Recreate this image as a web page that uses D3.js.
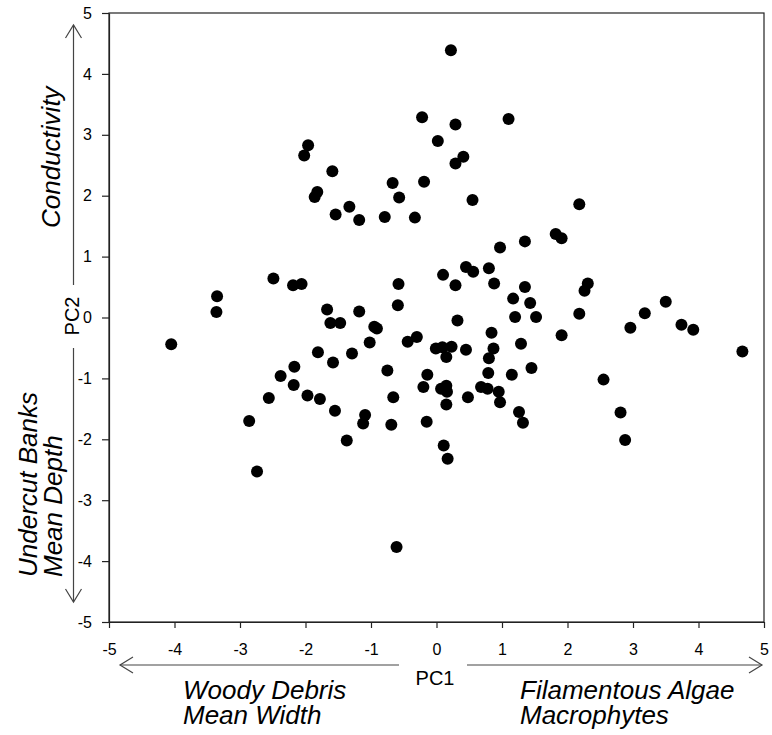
<!DOCTYPE html>
<html>
<head>
<meta charset="utf-8">
<script src="https://cdn.jsdelivr.net/npm/d3@7"></script>
<style>
  html, body { margin: 0; padding: 0; background: #fff; }
  svg { display: block; font-family: Arial, "Liberation Sans", sans-serif; }
</style>
</head>
<body>
<svg id="chart" width="772" height="735"></svg>
<script>
// ---- Data (PC1, PC2 scores) ----
const pc1 = [
  0.22, 1.10, -0.22, 0.29, 0.02, 0.41, 0.29, 0.55, 2.18, 1.82, 1.91, 1.35, 0.97, 0.45, 0.56, 0.80,
  0.10, 0.29, 0.88, 1.35, 1.17, 1.43, 1.20, 1.52, 2.31, 2.26, 2.18, 3.50, 3.18, 0.32,
  -1.96, -2.02, -1.59, -1.82, -1.86, -0.67, -0.19, -0.57, -1.33, -1.54, -1.18, -0.79, -0.33,
  -2.49, -2.19, -2.06, -3.35, -3.36, -0.58, -0.59, -1.67, -1.18, -1.62, -1.47, -0.95, -0.91,
  -4.05, -1.02, -0.44, -0.30, -0.01, -1.81, -1.29, -1.58, -2.17, -2.38, -2.18, -1.97, -1.78,
  -2.56, -1.55, -0.75, -0.14, -0.20, -0.66, -1.09, -1.12, -0.69, -0.15, -1.37, -2.86, -2.74, -0.61,
  2.96, 3.74, 3.92, 4.67, 1.91, 0.84, 1.29, 0.09, 0.23, 0.45, 0.15, 0.87, 0.80, 0.79, 1.15, 1.45,
  2.55, 0.15, 0.07, 0.16, 0.68, 0.78, 0.95, 0.97, 0.48, 0.15, 1.26, 1.32, 2.81, 2.88, 0.11, 0.17
];
const pc2 = [
  4.39, 3.26, 3.29, 3.17, 2.90, 2.64, 2.53, 1.93, 1.86, 1.37, 1.30, 1.25, 1.15, 0.83, 0.75, 0.81,
  0.70, 0.53, 0.56, 0.50, 0.31, 0.24, 0.01, 0.01, 0.56, 0.44, 0.06, 0.26, 0.07, -0.05,
  2.83, 2.66, 2.40, 2.06, 1.98, 2.21, 2.23, 1.97, 1.82, 1.69, 1.60, 1.65, 1.64,
  0.64, 0.53, 0.55, 0.35, 0.09, 0.55, 0.20, 0.13, 0.10, -0.09, -0.09, -0.15, -0.18,
  -0.44, -0.41, -0.40, -0.32, -0.51, -0.57, -0.59, -0.74, -0.81, -0.96, -1.11, -1.28, -1.34,
  -1.32, -1.53, -0.87, -0.94, -1.14, -1.31, -1.60, -1.74, -1.76, -1.71, -2.02, -1.70, -2.53, -3.77,
  -0.17, -0.12, -0.20, -0.56, -0.29, -0.25, -0.43, -0.49, -0.48, -0.53, -0.65, -0.51, -0.67, -0.91, -0.94, -0.83,
  -1.02, -1.12, -1.17, -1.22, -1.14, -1.17, -1.22, -1.39, -1.31, -1.43, -1.55, -1.73, -1.56, -2.01, -2.10, -2.32
];
const xTicks = [-5, -4, -3, -2, -1, 0, 1, 2, 3, 4, 5];
const yTicks = [-5, -4, -3, -2, -1, 0, 1, 2, 3, 4, 5];
const xAxisTitle = "PC1";
const yAxisTitle = "PC2";
const leftLabels = ["Woody Debris", "Mean Width"];
const rightLabels = ["Filamentous Algae", "Macrophytes"];
const topLabels = ["Conductivity"];
const bottomLabels = ["Undercut Banks", "Mean Depth"];

const points = pc1.map((v, i) => ({ x: v, y: pc2[i] }));

// ---- Layout ----
const svg = d3.select("#chart");
const L = 109, R = 764, T = 13, B = 622;
const x = d3.scaleLinear().domain([-5, 5]).range([L, R]);
const y = d3.scaleLinear().domain([-5, 5]).range([B, T]);

// frame
svg.append("rect")
  .attr("x", L).attr("y", T).attr("width", R - L).attr("height", B - T)
  .attr("fill", "none").attr("stroke", "#222").attr("stroke-width", 1.2);

// axes
const gx = svg.append("g").attr("transform", `translate(0,${B})`)
  .call(d3.axisBottom(x).tickValues(xTicks).tickSize(6).tickSizeOuter(0).tickPadding(16).tickFormat(d3.format("d")));
const gy = svg.append("g").attr("transform", `translate(${L},0)`)
  .call(d3.axisLeft(y).tickValues(yTicks).tickSize(7).tickSizeOuter(0).tickPadding(10).tickFormat(d3.format("d")));
[gx, gy].forEach(g => {
  g.attr("font-family", "Arial, 'Liberation Sans', sans-serif").attr("font-size", 16);
  g.select(".domain").attr("stroke", "#222").attr("stroke-width", 1.2);
  g.selectAll(".tick line").attr("stroke", "#222").attr("stroke-width", 1.2);
  g.selectAll(".tick text").attr("font-size", 16).attr("fill", "#000");
});
gx.selectAll(".tick text").attr("dy", "0.71em");
// use hyphen-minus like the reference
gx.selectAll(".tick text").text(d => String(d));
gy.selectAll(".tick text").text(d => String(d));

// points
svg.append("g").selectAll("circle").data(points).join("circle")
  .attr("cx", d => x(d.x)).attr("cy", d => y(d.y)).attr("r", 6).attr("fill", "#000");

// ---- arrows ----
const arrowColor = "#444";
const ag = svg.append("g").attr("stroke", arrowColor).attr("stroke-width", 1.2).attr("fill", "none");
// horizontal (PC1)
const ay = 665;
ag.append("line").attr("x1", 120).attr("y1", ay).attr("x2", 399).attr("y2", ay);
ag.append("line").attr("x1", 467).attr("y1", ay).attr("x2", 762).attr("y2", ay);
ag.append("path").attr("d", `M133,${ay - 8} L120,${ay} L133,${ay + 8}`);
ag.append("path").attr("d", `M749,${ay - 8} L762,${ay} L749,${ay + 8}`);
// vertical (PC2)
const ax = 73.5;
ag.append("line").attr("x1", ax).attr("y1", 25).attr("x2", ax).attr("y2", 285);
ag.append("line").attr("x1", ax).attr("y1", 348).attr("x2", ax).attr("y2", 602);
ag.append("path").attr("d", `M${ax - 8},38 L${ax},25 L${ax + 8},38`);
ag.append("path").attr("d", `M${ax - 8},589 L${ax},602 L${ax + 8},589`);

// axis titles
svg.append("text").attr("x", 435).attr("y", 685).attr("text-anchor", "middle")
  .attr("font-size", 20).text(xAxisTitle);
svg.append("text").attr("transform", "translate(79,316) rotate(-90)").attr("text-anchor", "middle")
  .attr("font-size", 20).text(yAxisTitle);

// descriptive italic labels
const lab = (txt, tx, ty, rot, size) => {
  svg.append("text")
    .attr("transform", `translate(${tx},${ty})` + (rot ? " rotate(-90)" : ""))
    .attr("font-size", size).attr("font-style", "italic").attr("text-anchor", "start")
    .text(txt);
};
lab(leftLabels[0], 183, 699, false, 26);
lab(leftLabels[1], 183, 724, false, 26);
lab(rightLabels[0], 520, 699, false, 26);
lab(rightLabels[1], 520, 724, false, 26);
lab(topLabels[0], 60, 228, true, 26);
lab(bottomLabels[0], 37, 577, true, 26);
lab(bottomLabels[1], 62, 577, true, 26);
</script>
</body>
</html>
